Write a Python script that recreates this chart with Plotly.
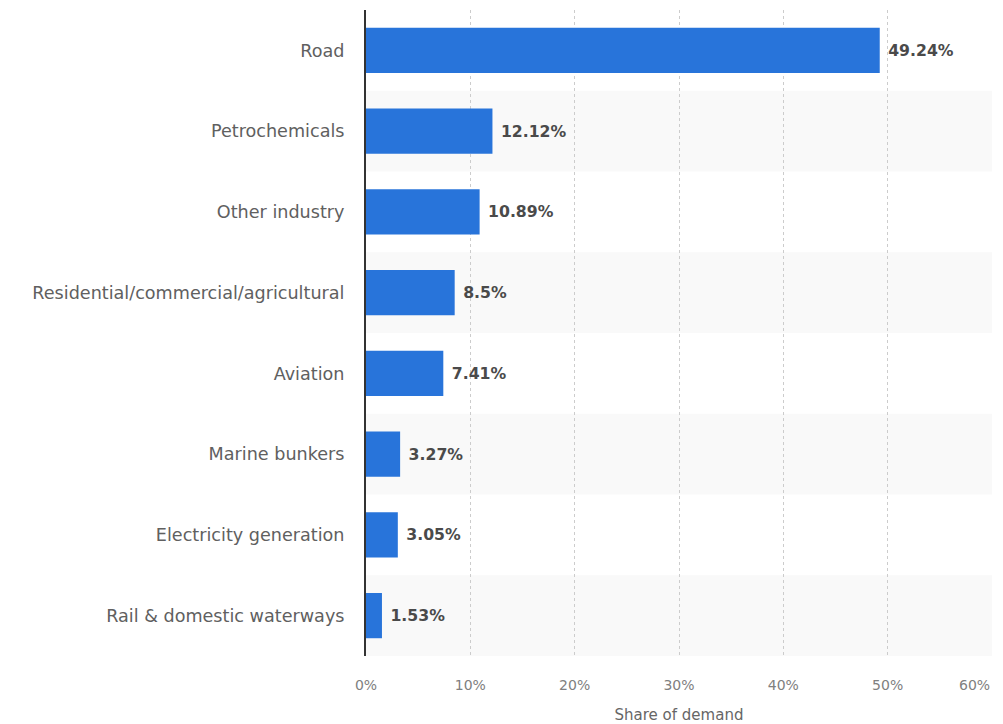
import plotly.graph_objects as go

categories = ["Road", "Petrochemicals", "Other industry", "Residential/commercial/agricultural",
              "Aviation", "Marine bunkers", "Electricity generation", "Rail & domestic waterways"]
values = [49.24, 12.12, 10.89, 8.5, 7.41, 3.27, 3.05, 1.53]
labels = ["49.24%", "12.12%", "10.89%", "8.5%", "7.41%", "3.27%", "3.05%", "1.53%"]
tick_vals = [0, 10, 20, 30, 40, 50, 60]
tick_text = ["0%", "10%", "20%", "30%", "40%", "50%", "60%"]

FONT = "DejaVu Sans"

fig = go.Figure()
fig.add_trace(go.Bar(
    y=categories, x=values, orientation="h",
    marker=dict(color="#2874da", line=dict(width=0)),
    width=0.56,
    text=labels, texttemplate="\u00a0%{text}", textposition="outside", cliponaxis=False,
    textfont=dict(family=FONT, size=15.7, color="#4a4a4a", weight=600),
    hoverinfo="skip",
))

shapes = []
for i, c in enumerate(categories):
    if i % 2 == 1:
        shapes.append(dict(type="rect", xref="paper", x0=0, x1=1, yref="y",
                           y0=i - 0.5, y1=i + 0.5, fillcolor="#f9f9f9",
                           line=dict(width=0), layer="below"))

# last tick label is right-aligned to the plot edge in the reference
shown_ticks = tick_text[:-1] + [""]
annotations = [dict(x=tick_vals[-1], xref="x", y=0, yref="paper", yshift=-29,
                    text=tick_text[-1], showarrow=False, xanchor="right", yanchor="middle",
                    font=dict(family=FONT, size=14, color="#808080"))]

# page body has an 8px default margin, so the figure is sized to fit the window
fig.update_layout(
    width=995, height=716,
    margin=dict(l=358, r=11, t=2, b=68),
    plot_bgcolor="white", paper_bgcolor="white",
    showlegend=False,
    shapes=shapes,
    annotations=annotations,
    xaxis=dict(range=[0, 60], tickvals=tick_vals, ticktext=shown_ticks, automargin=False,
               showgrid=True, gridcolor="#cccccc", griddash="dot", gridwidth=1,
               zeroline=False, showline=False, ticks="", ticklabelstandoff=19,
               tickfont=dict(family=FONT, size=14, color="#808080"),
               title=dict(text="Share of demand", standoff=17,
                          font=dict(family=FONT, size=15, color="#666666"))),
    yaxis=dict(autorange="reversed", showline=True, linecolor="#333333", linewidth=2,
               showgrid=False, ticks="", ticklabelstandoff=16, automargin=False,
               tickfont=dict(family=FONT, size=17.6, color="#606060")),
)
fig.write_html("out.html")
